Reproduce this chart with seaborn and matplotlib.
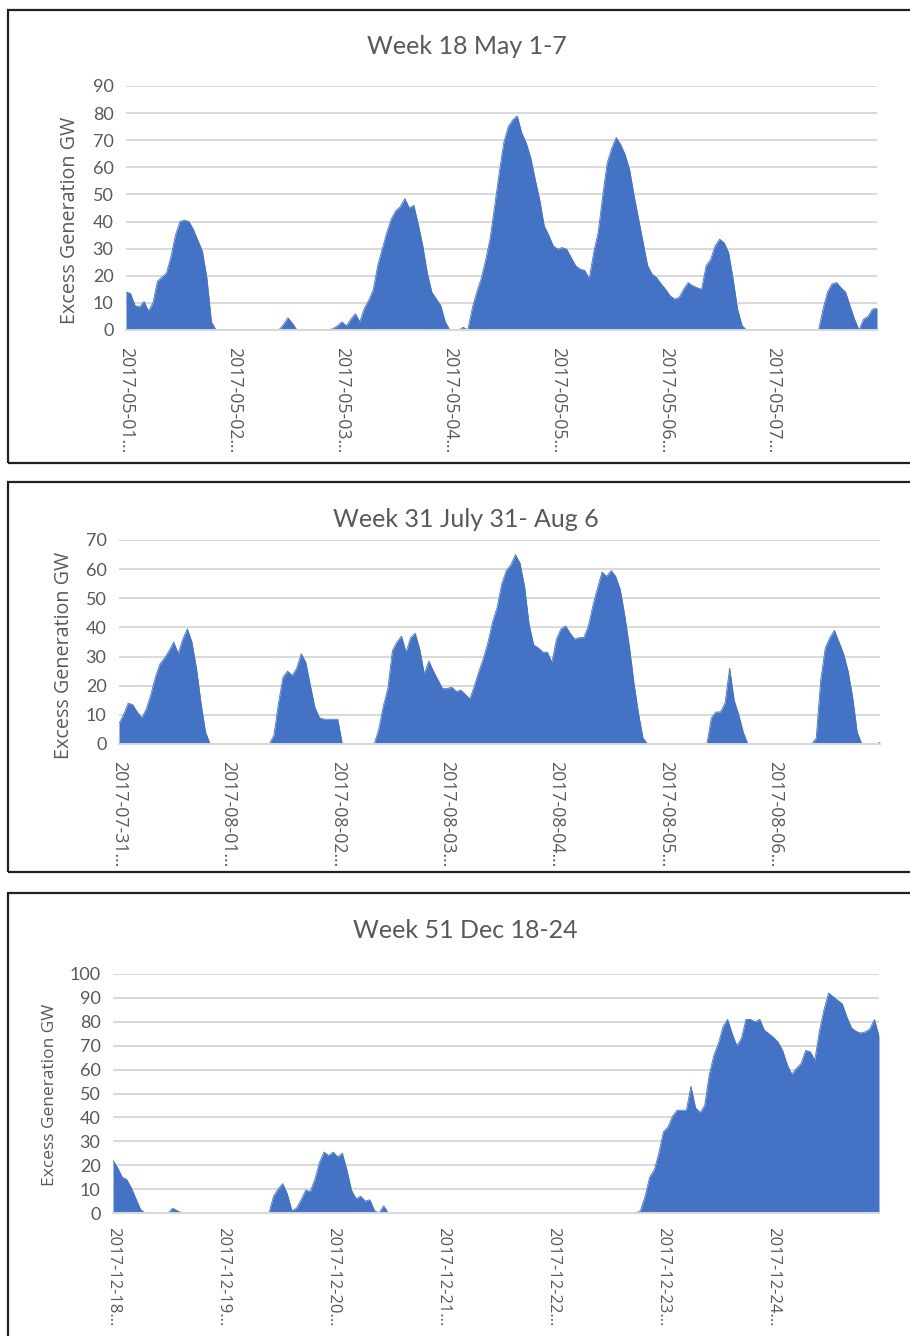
import matplotlib
matplotlib.use("Agg")
import matplotlib.pyplot as plt
from matplotlib.patches import Rectangle
import seaborn as sns
import numpy as np

# hourly excess generation (GW), one value per hour of the week
week18 = [14, 13.5, 9, 8.5, 10.5, 7, 10, 18, 19.5, 21, 27, 35, 40, 40.5, 40, 37, 33, 29, 19, 3,
          0, 0, 0, 0, 0, 0, 0, 0, 0, 0, 0, 0, 0, 0, 0,
          2, 4.5, 2.5,
          0, 0, 0, 0, 0, 0, 0, 0,
          0.5, 1.5, 3, 1.5, 4, 6, 3, 8, 11, 15, 24, 30, 36, 41, 44, 45.5, 48.5, 45, 46, 39,
          31, 21, 14, 11.5, 9, 3,
          0, 0, 0, 1, 0,
          8, 14, 19, 26, 34, 46, 58,
          69, 75, 77.5, 79, 72.7, 69, 63.5, 55.5, 48, 38.4, 35, 31, 29.8, 30.4, 29.8, 26.7,
          23.7, 22.4, 22, 18.8, 28.6, 36, 49.4, 61.6, 67, 71, 68.4, 64.7, 59, 49.4, 40.8, 32.2,
          23.7, 20.6, 19.3, 17, 15, 12.6, 11.4, 12, 15, 17.5, 16.3, 15.6, 15, 23.7, 26, 31,
          33.5, 32.2, 28.6, 18.8, 7.7, 1.6,
          0, 0, 0, 0, 0, 0, 0, 0, 0, 0, 0, 0, 0, 0, 0, 0, 0,
          7.7, 14, 17, 17.5, 15.6, 14, 9, 4, 0, 4, 5, 7.7, 8]

week31 = [7, 10, 14, 13.5, 11, 9, 12, 17, 23, 27.5, 29.5, 32, 35, 31, 36, 39.5, 35, 26, 14, 4,
          0, 0, 0, 0, 0, 0, 0, 0, 0, 0, 0, 0, 0, 0,
          3, 14, 23, 25, 23.5, 26, 31, 28, 20, 12.5, 9, 8.5, 8.5, 8.5, 8.5,
          0, 0, 0, 0, 0, 0, 0, 0,
          5, 13, 19, 32, 35, 37, 31.5, 36.5, 38, 32.5, 24, 28.5, 25, 22, 19, 19, 19.5, 18,
          18.5, 17, 15.5, 20, 25, 29.5, 35, 42, 47, 55,
          59.5, 61.5, 65, 62, 54, 41, 34, 33, 31.5, 31.5, 28, 36, 39.5, 40.5, 38, 36, 36.5,
          36.5, 40.5, 47.5, 53.5, 59, 57.5, 59.5, 57.5, 53, 44, 33.5, 21, 10.5, 2,
          0, 0, 0, 0, 0, 0, 0, 0, 0, 0, 0, 0, 0, 0,
          9, 11, 11, 14, 26, 15, 10, 4,
          0, 0, 0, 0, 0, 0, 0, 0, 0, 0, 0, 0, 0, 0, 0,
          2, 22, 33, 36.5, 39, 35, 31, 25, 16, 4,
          0, 0, 0, 0, 0.5]

week51 = [22, 19, 15, 14, 10.5, 6, 1.5,
          0, 0, 0, 0, 0, 0,
          2, 1,
          0, 0, 0, 0, 0, 0, 0, 0, 0, 0, 0, 0, 0, 0, 0, 0, 0, 0, 0, 0,
          7, 10, 12.3, 8, 1, 2, 5.5, 9.5, 9, 14, 21, 25.5, 24, 25.5, 23.5, 25, 18, 9.5, 6, 7,
          5, 5.5, 1, 0, 3,
          0, 0, 0, 0, 0, 0, 0, 0, 0, 0, 0, 0, 0, 0, 0, 0, 0, 0, 0, 0,
          0, 0, 0, 0, 0, 0, 0, 0, 0, 0, 0, 0, 0, 0, 0, 0, 0, 0, 0, 0,
          0, 0, 0, 0, 0, 0, 0, 0, 0, 0, 0, 0, 0, 0, 0,
          1, 7, 15, 18, 25, 34, 36, 40.5, 43, 43, 43, 53, 44, 42, 45, 58, 66, 71, 78, 81,
          75, 70, 73, 81, 81, 80, 81, 76.5, 75, 73.5, 71.5, 68, 62, 58, 60.5, 62.5, 68, 67.5,
          64, 76, 85, 92, 90.5, 89, 87.5, 82, 77.5, 76, 75.3, 75.8, 77, 81, 74]

titles = ["Week 18 May 1-7", "Week 31 July 31- Aug 6", "Week 51 Dec 18-24"]
day_labels = [
    ["2017-05-01…", "2017-05-02…", "2017-05-03…", "2017-05-04…", "2017-05-05…", "2017-05-06…", "2017-05-07…"],
    ["2017-07-31…", "2017-08-01…", "2017-08-02…", "2017-08-03…", "2017-08-04…", "2017-08-05…", "2017-08-06…"],
    ["2017-12-18…", "2017-12-19…", "2017-12-20…", "2017-12-21…", "2017-12-22…", "2017-12-23…", "2017-12-24…"],
]
y_max = [90, 70, 100]

sns.set_style("white")
plt.rcParams["font.family"] = ["Lato", "DejaVu Sans"]

W, H = 910, 1336
fig = plt.figure(figsize=(W / 100, H / 100), dpi=100)

blue = "#4472C4"
grey_txt = "#595959"
grid_c = "#D9D9D9"

# pixel boxes: (left, right, top, bottom) of plot area
boxes = [(126, 877, 86, 330), (119, 880, 540, 744), (113, 879, 974, 1213)]
title_xy = [(467, 46), (466, 519), (465, 930)]
ylab_pos = [(70, 220, 14.2), (64, 655, 14.2), (50, 1095, 12.5)]
xtick_fs = [12.8, 12.8, 12.0]
xtick_pad = [12, 12, 10]
# panel frames: (top, bottom)
frames = [(10, 463), (482, 872), (893, 1350)]

for top, bot in frames:
    fig.patches.append(Rectangle((8 / W, 1 - bot / H), 1.2, (bot - top) / H,
                                 transform=fig.transFigure, fill=False,
                                 edgecolor="#202020", linewidth=1.6))

for i, vals in enumerate([week18, week31, week51]):
    l, r, t, b = boxes[i]
    ax = fig.add_axes([l / W, 1 - b / H, (r - l) / W, (b - t) / H])
    hours = np.arange(len(vals))
    ax.fill_between(hours, vals, 0, color=blue, linewidth=0, zorder=2)
    sns.lineplot(x=hours, y=vals, ax=ax, color=blue, linewidth=0.6, zorder=3)

    ax.set_xlim(0, len(vals) - 1)
    ax.set_ylim(0, y_max[i])
    ax.set_yticks(range(0, y_max[i] + 1, 10))
    ax.set_xticks(range(0, 168, 24))
    ax.set_xticklabels(day_labels[i], rotation=270, family="Open Sans",
                       fontsize=xtick_fs[i], color=grey_txt)
    ax.tick_params(axis="y", labelsize=13, labelcolor=grey_txt, length=0, pad=9)
    ax.tick_params(axis="x", length=0, pad=xtick_pad[i])
    for lab in ax.get_xticklabels():
        lab.set_ha("center")
        lab.set_va("top")
    ax.yaxis.grid(True, color=grid_c, linewidth=1.4, zorder=0)
    ax.set_axisbelow(True)
    for s in ["top", "right", "left"]:
        ax.spines[s].set_visible(False)
    ax.spines["bottom"].set_color(grid_c)
    ax.spines["bottom"].set_linewidth(1.4)
    ax.spines["bottom"].set_zorder(4)
    ax.set_xlabel("")
    ax.set_ylabel("")

    tx, ty = title_xy[i]
    fig.text(tx / W, 1 - ty / H, titles[i], ha="center", va="center",
             fontsize=18, color=grey_txt)
    x_l, y_l, fs = ylab_pos[i]
    fig.text(x_l / W, 1 - y_l / H, "Excess Generation GW", rotation=90, ha="center",
             va="center", fontsize=fs, color=grey_txt, family="Open Sans")

fig.savefig("out.png", dpi=100, facecolor="white")
